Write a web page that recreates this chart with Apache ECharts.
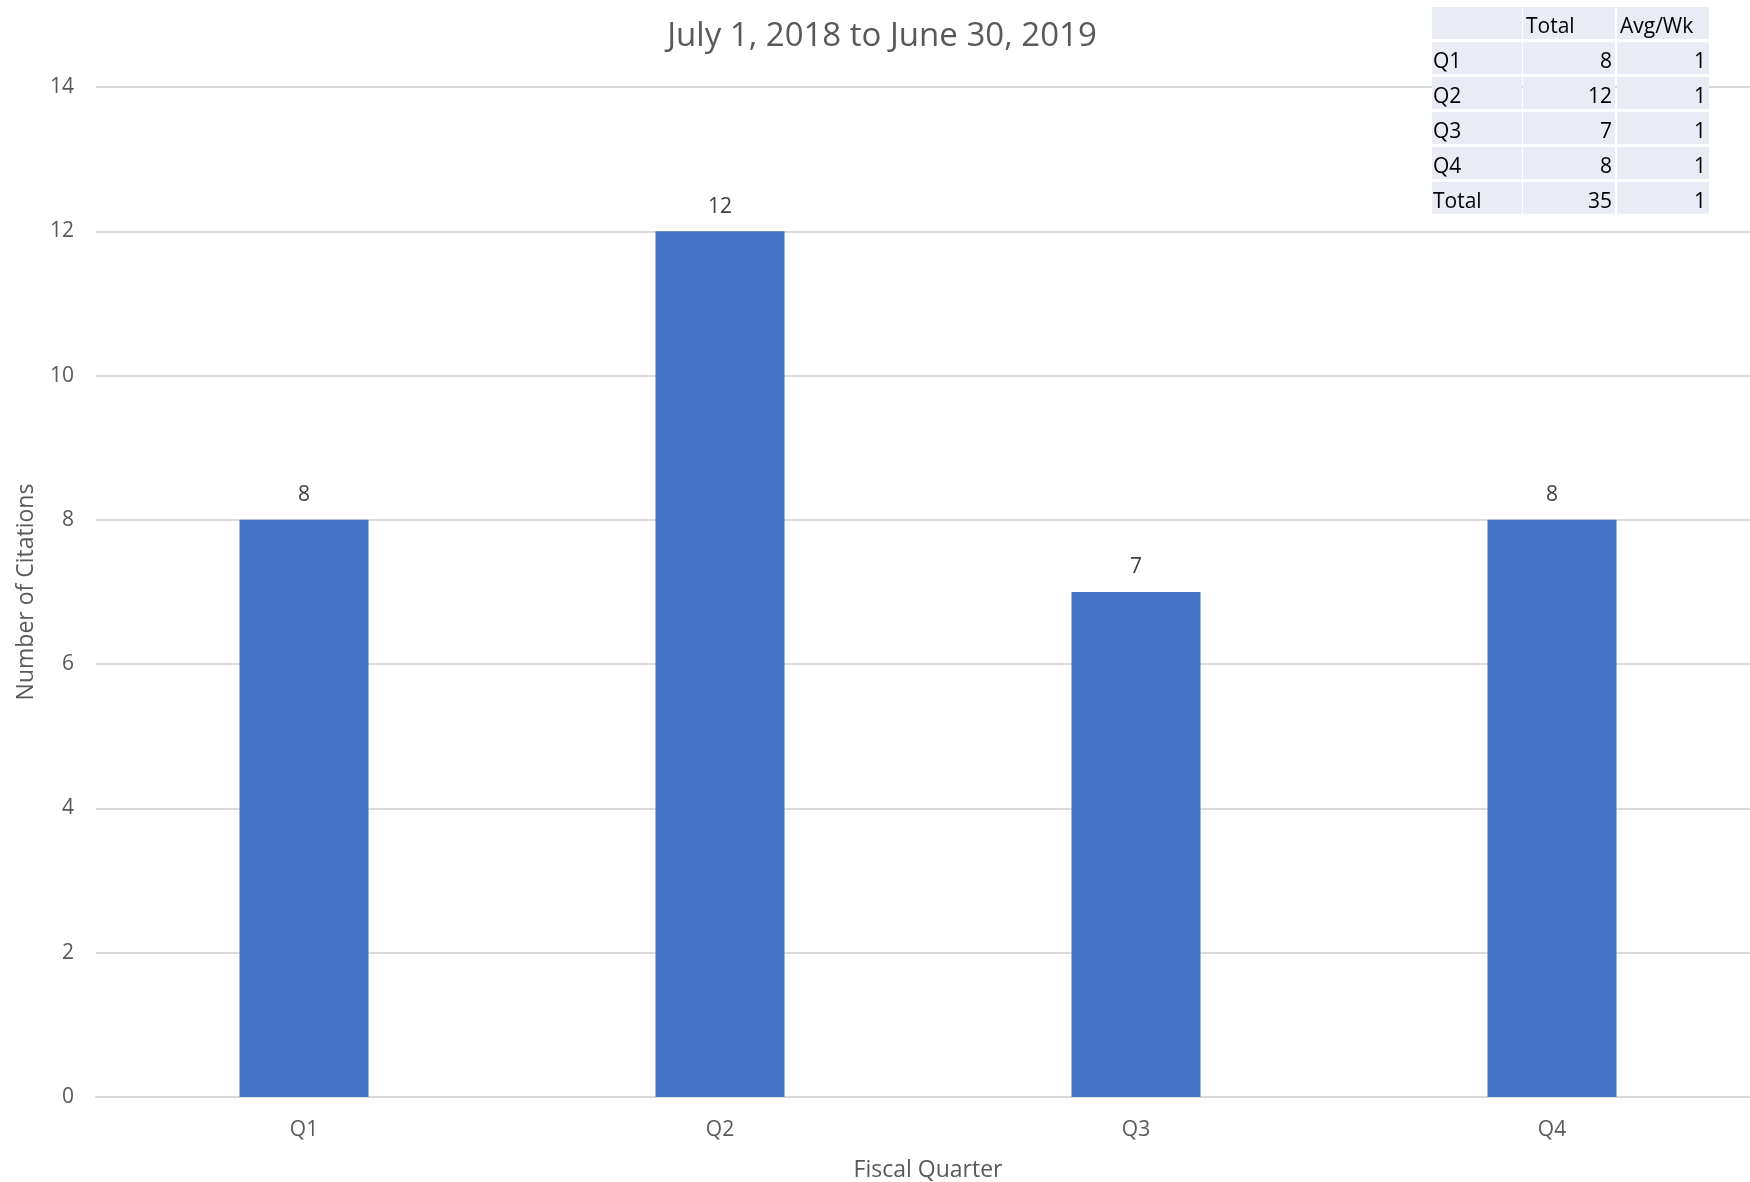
<!DOCTYPE html>
<html>
<head>
<meta charset="utf-8">
<script src="https://cdn.jsdelivr.net/npm/echarts@6/dist/echarts.min.js"></script>
<style>
html,body{margin:0;padding:0;background:#fff;}
#chart{width:1750px;height:1182px;}
</style>
</head>
<body>
<div id="chart"></div>
<script>
const categories = ['Q1', 'Q2', 'Q3', 'Q4'];
const citations = [8, 12, 7, 8];
const yTicks = [0, 2, 4, 6, 8, 10, 12, 14];

const tableHeader = ['', 'Total', 'Avg/Wk'];
const tableRowLabels = ['Q1', 'Q2', 'Q3', 'Q4', 'Total'];
const tableTotals = [8, 12, 7, 8, 35];
const tableAvgWk = [1, 1, 1, 1, 1];

const FONT = '"Open Sans", "Noto Sans", sans-serif';

// table graphic
const colX = [1432, 1523, 1617];
const colW = [90, 92, 92];
const rowY0 = 7, rowH = 32, rowStep = 35;
const cellFill = '#E9EBF5';
const graphics = [];
const rows = [tableHeader].concat(tableRowLabels.map((r, i) => [r, String(tableTotals[i]), String(tableAvgWk[i])]));
rows.forEach((row, ri) => {
  const y = rowY0 + ri * rowStep;
  row.forEach((txt, ci) => {
    graphics.push({
      type: 'rect', z: 100,
      shape: { x: colX[ci], y: y, width: colW[ci], height: rowH },
      style: { fill: cellFill }
    });
    if (txt !== '') {
      const rightAlign = ri > 0 && ci > 0;
      graphics.push({
        type: 'text', z: 101,
        x: rightAlign ? colX[ci] + colW[ci] - 3 : colX[ci] + (ci === 0 ? 1 : 3),
        y: y + rowH / 2 + 4,
        style: {
          text: txt, fill: '#000', font: '21px ' + FONT,
          align: rightAlign ? 'right' : 'left', verticalAlign: 'middle'
        }
      });
    }
  });
});

const chart = echarts.init(document.getElementById('chart'));
chart.setOption({
  backgroundColor: '#fff',
  animation: false,
  title: {
    text: 'July 1, 2018 to June 30, 2019',
    left: 877, top: 15, textAlign: 'center',
    textStyle: { fontFamily: FONT, fontSize: 33, fontWeight: 'normal', color: '#595959' }
  },
  grid: { left: 96, right: -10, top: 87, bottom: 85, containLabel: false, outerBoundsMode: 'none' },
  xAxis: {
    type: 'category',
    data: categories,
    name: 'Fiscal Quarter',
    nameLocation: 'middle',
    nameGap: 62,
    nameTextStyle: { fontFamily: FONT, fontSize: 23, color: '#595959' },
    axisLine: { show: true, lineStyle: { color: '#D9D9D9', width: 2 } },
    axisTick: { show: false },
    axisLabel: { fontFamily: FONT, fontSize: 21, color: '#595959', margin: 23 }
  },
  yAxis: {
    type: 'value',
    min: yTicks[0], max: yTicks[yTicks.length - 1], interval: 2,
    name: 'Number of Citations',
    nameLocation: 'middle',
    nameRotate: 90,
    nameGap: 58,
    nameTextStyle: { fontFamily: FONT, fontSize: 23, color: '#595959' },
    axisLine: { show: false },
    axisTick: { show: false },
    axisLabel: { fontFamily: FONT, fontSize: 21, color: '#595959', margin: 22 },
    splitLine: { lineStyle: { color: '#D9D9D9', width: 2 } }
  },
  series: [{
    type: 'bar',
    data: citations,
    barWidth: 129,
    itemStyle: { color: '#4472C4' },
    label: {
      show: true, position: 'top', distance: 14,
      fontFamily: FONT, fontSize: 21, color: '#404040'
    }
  }],
  graphic: graphics
});
</script>
</body>
</html>
